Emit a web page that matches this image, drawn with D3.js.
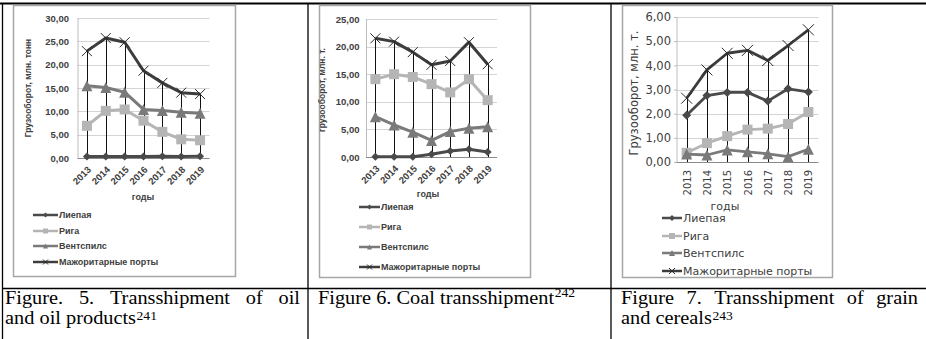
<!DOCTYPE html>
<html>
<head>
<meta charset="utf-8">
<script src="https://cdn.jsdelivr.net/npm/d3@7"></script>
<style>
  body { margin: 0; background: #fff; }
  svg { display: block; }
</style>
</head>
<body>
<svg id="fig" width="926" height="339"></svg>
<script>
// ---- data -------------------------------------------------------------
const years = ["2013", "2014", "2015", "2016", "2017", "2018", "2019"];
const seriesNames = ["Лиепая", "Рига", "Вентспилс", "Мажоритарные порты"];

// Fig. 5 — oil and oil products, mln t
const oilLiepaja   = [0.3, 0.3, 0.3, 0.3, 0.4, 0.3, 0.4];
const oilRiga      = [6.9, 10.1, 10.4, 8.0, 5.6, 4.0, 3.8];
const oilVentspils = [15.5, 15.1, 14.1, 10.4, 10.2, 9.8, 9.6];
const oilMajor     = [22.9, 25.7, 24.8, 18.7, 16.1, 14.0, 13.7];

// Fig. 6 — coal, mln t
const coalLiepaja   = [0.05, 0.05, 0.05, 0.5, 1.1, 1.4, 0.9];
const coalRiga      = [14.1, 15.0, 14.5, 13.2, 11.7, 14.1, 10.3];
const coalVentspils = [7.3, 5.8, 4.5, 3.0, 4.6, 5.2, 5.5];
const coalMajor     = [21.5, 20.9, 19.0, 16.7, 17.4, 20.8, 16.8];

// Fig. 7 — grain and cereals, mln t
const grainLiepaja   = [1.93, 2.75, 2.88, 2.88, 2.52, 3.03, 2.9];
const grainRiga      = [0.38, 0.78, 1.07, 1.34, 1.38, 1.57, 2.07];
const grainVentspils = [0.33, 0.29, 0.5, 0.42, 0.34, 0.22, 0.53];
const grainMajor     = [2.64, 3.81, 4.5, 4.62, 4.2, 4.82, 5.47];

const oilTicks   = [0, 5, 10, 15, 20, 25, 30];
const coalTicks  = [0, 5, 10, 15, 20, 25];
const grainTicks = [0, 1, 2, 3, 4, 5, 6];

const axisTitleX = "годы";
const yTitles = ["Грузооборот, млн. тонн", "грузооборот, млн. т.", "Грузооборот, млн. т."];

const captions = [
  { lines: [["Figure.", "5.", "Transshipment", "of", "oil"], ["and", "oil", "products"]], note: "241" },
  { lines: [["Figure", "6.", "Coal", "transshipment"]], note: "242" },
  { lines: [["Figure", "7.", "Transshipment", "of", "grain"], ["and", "cereals"]], note: "243" }
];

// ---- helpers ----------------------------------------------------------
const svg = d3.select("#fig");
const ruLocale = d3.formatLocale({ decimal: ",", thousands: " ", grouping: [3], currency: ["", ""] });
const fmt2 = ruLocale.format(".2f");

// marker shapes with equal width and height (w = sqrt(size))
const diamond = { draw(ctx, size) { const r = Math.sqrt(size) / 2; ctx.moveTo(0, -r); ctx.lineTo(r, 0); ctx.lineTo(0, r); ctx.lineTo(-r, 0); ctx.closePath(); } };
const square = { draw(ctx, size) { const r = Math.sqrt(size) / 2; ctx.rect(-r, -r, 2 * r, 2 * r); } };
const triangle = { draw(ctx, size) { const r = Math.sqrt(size) / 2; ctx.moveTo(0, -r); ctx.lineTo(r, r); ctx.lineTo(-r, r); ctx.closePath(); } };
const cross = { draw(ctx, size) { const r = Math.sqrt(size) / 2; ctx.moveTo(-r, -r); ctx.lineTo(r, r); ctx.moveTo(r, -r); ctx.lineTo(-r, r); } };

const styles = [
  { color: "#4a4a4a", shape: diamond,  filled: true },
  { color: "#b5b5b5", shape: square,   filled: true },
  { color: "#7a7a7a", shape: triangle, filled: true },
  { color: "#3d3d3d", shape: cross,    filled: false }
];

function drawMarker(g, st, cx, cy, w) {
  const p = g.append("path")
    .attr("transform", `translate(${cx},${cy})`)
    .attr("d", d3.symbol().type(st.shape).size(w * w)());
  if (st.filled) p.attr("fill", st.color).attr("stroke", "none");
  else p.attr("fill", "none").attr("stroke", "#2a2a2a").attr("stroke-width", 1);
}

function drawChart(c) {
  const g = svg.append("g").attr("font-family", c.font).attr("fill", "#404040");

  g.append("rect")
    .attr("x", c.box[0]).attr("y", c.box[1])
    .attr("width", c.box[2] - c.box[0]).attr("height", c.box[3] - c.box[1])
    .attr("fill", "#fff").attr("stroke", "#a6a6a6").attr("stroke-width", 1.5);

  const x = d3.scalePoint().domain(years).range(c.xRange).padding(0.5);
  const y = d3.scaleLinear().domain([0, d3.max(c.ticks)]).range(c.yRange);

  // horizontal gridlines
  g.append("g").selectAll("line").data(c.ticks.slice(1)).join("line")
    .attr("x1", c.xRange[0]).attr("x2", c.xRange[1])
    .attr("y1", d => Math.round(y(d)) + 0.5).attr("y2", d => Math.round(y(d)) + 0.5)
    .attr("stroke", "#d4d4d4").attr("stroke-width", 1);

  // y axis
  const ya = d3.axisLeft(y).tickValues(c.ticks).tickFormat(fmt2).tickSize(c.tickLen).tickPadding(c.tickPad);
  const yg = g.append("g").attr("transform", `translate(${c.xRange[0] + 0.5},0)`).call(ya);
  yg.select(".domain").attr("stroke", "#bcbcbc").attr("d", `M0,${c.yRange[1]}V${c.yRange[0]}`);
  yg.selectAll(".tick line").attr("stroke", "#bcbcbc");
  yg.selectAll(".tick text").attr("fill", "#404040")
    .attr("font-size", c.tickSize).attr("font-weight", c.weight).attr("font-family", c.font);

  // x axis baseline
  g.append("line")
    .attr("x1", c.xRange[0]).attr("x2", c.xRange[1])
    .attr("y1", Math.round(y(0)) + 0.5).attr("y2", Math.round(y(0)) + 0.5)
    .attr("stroke", "#8a8a8a").attr("stroke-width", 1);

  // x tick labels
  const xa = d3.axisBottom(x).tickSize(0).tickPadding(0);
  const xg = g.append("g").attr("transform", `translate(0,${y(0)})`).call(xa);
  xg.select(".domain").remove();
  xg.selectAll(".tick text")
    .attr("fill", "#404040").attr("font-size", c.xLabelSize)
    .attr("font-weight", c.weight).attr("font-family", c.font)
    .attr("text-anchor", "end")
    .attr("dy", "0.35em")
    .attr("transform", `translate(${c.xLabelShift[0]},${c.xLabelShift[1]}) rotate(${c.xLabelAngle})`);

  // drop lines from the top series down to the category axis
  const top = c.series[3];
  g.append("g").selectAll("line").data(years).join("line")
    .attr("x1", d => Math.round(x(d)) + 0.5).attr("x2", d => Math.round(x(d)) + 0.5)
    .attr("y1", (d, i) => y(top[i])).attr("y2", y(0))
    .attr("stroke", "#111").attr("stroke-width", 1);

  // series lines + markers
  const line = d3.line().x((d, i) => x(years[i])).y(d => y(d));
  c.series.forEach((vals, si) => {
    const st = styles[si];
    g.append("path").datum(vals).attr("d", line)
      .attr("fill", "none").attr("stroke", st.color)
      .attr("stroke-width", c.lineW).attr("stroke-linejoin", "round");
    const mg = g.append("g");
    vals.forEach((v, i) => drawMarker(mg, st, x(years[i]), y(v), c.markerW[si]));
  });

  // axis titles
  g.append("text")
    .attr("transform", `translate(${c.yTitlePos[0]},${c.yTitlePos[1]}) rotate(-90)`)
    .attr("text-anchor", "middle").attr("dy", "0.35em")
    .attr("font-size", c.yTitleSize).attr("font-weight", c.weight)
    .text(c.yTitle);
  g.append("text")
    .attr("x", c.xTitlePos[0]).attr("y", c.xTitlePos[1])
    .attr("text-anchor", "middle").attr("dy", "0.35em")
    .attr("font-size", c.xTitleSize).attr("font-weight", c.weight)
    .text(axisTitleX);

  // legend
  const lg = g.append("g");
  seriesNames.forEach((name, i) => {
    const st = styles[i];
    const ly = c.legend.ys[i];
    lg.append("line")
      .attr("x1", c.legend.x0).attr("x2", c.legend.x1).attr("y1", ly).attr("y2", ly)
      .attr("stroke", st.color).attr("stroke-width", 2.5);
    drawMarker(lg, st, (c.legend.x0 + c.legend.x1) / 2, ly, c.legend.markerW);
    lg.append("text")
      .attr("x", c.legend.x1 + 1).attr("y", ly).attr("dy", "0.35em")
      .attr("font-size", c.legend.size).attr("font-weight", c.weight)
      .text(name);
  });
}

// ---- table rules ------------------------------------------------------
const rules = svg.append("g").attr("stroke", "#000");
rules.append("line").attr("x1", 0).attr("x2", 926).attr("y1", 3.5).attr("y2", 3.5).attr("stroke-width", 2);
[2.5, 308, 611].forEach(xv =>
  rules.append("line").attr("x1", xv).attr("x2", xv).attr("y1", 3).attr("y2", 339).attr("stroke-width", 1.3));
rules.append("line").attr("x1", 2).attr("x2", 926).attr("y1", 288.5).attr("y2", 288.5).attr("stroke-width", 1.3);

// ---- charts -----------------------------------------------------------
drawChart({
  box: [13.5, 5.5, 235.5, 276.5],
  xRange: [77.5, 209.5], yRange: [158, 18],
  ticks: oilTicks, tickLen: 0, tickPad: 9,
  series: [oilLiepaja, oilRiga, oilVentspils, oilMajor],
  font: "Liberation Sans", weight: "bold",
  tickSize: 9.5, xLabelSize: 9.5, xLabelAngle: -45, xLabelShift: [2, 10],
  yTitle: yTitles[0], yTitlePos: [28, 88], yTitleSize: 8.5,
  xTitlePos: [143, 197], xTitleSize: 9,
  lineW: 3, markerW: [8, 10, 11, 10],
  legend: { x0: 33, x1: 58, ys: [215, 231, 246, 262], size: 9, markerW: 5 }
});

drawChart({
  box: [319.5, 5.5, 530.5, 277.5],
  xRange: [366, 497], yRange: [157, 19],
  ticks: coalTicks, tickLen: 0, tickPad: 7,
  series: [coalLiepaja, coalRiga, coalVentspils, coalMajor],
  font: "Liberation Sans", weight: "bold",
  tickSize: 9.5, xLabelSize: 9.5, xLabelAngle: -45, xLabelShift: [2, 10],
  yTitle: yTitles[1], yTitlePos: [322, 90], yTitleSize: 8.5,
  xTitlePos: [428, 194], xTitleSize: 9,
  lineW: 3, markerW: [8, 10, 11, 10],
  legend: { x0: 359, x1: 380, ys: [207, 227, 247, 267], size: 9, markerW: 5 }
});

drawChart({
  box: [622.5, 5.5, 832.5, 277.5],
  xRange: [676.5, 818.5], yRange: [162, 17],
  ticks: grainTicks, tickLen: 3, tickPad: 3,
  series: [grainLiepaja, grainRiga, grainVentspils, grainMajor],
  font: "DejaVu Sans", weight: "normal",
  tickSize: 11.5, xLabelSize: 10, xLabelAngle: -90, xLabelShift: [0, 8],
  yTitle: yTitles[2], yTitlePos: [634, 93], yTitleSize: 11.5,
  xTitlePos: [725, 206], xTitleSize: 11,
  lineW: 2.8, markerW: [9, 10, 11, 11],
  legend: { x0: 662, x1: 682, ys: [218, 236, 253, 271], size: 11, markerW: 6 }
});

// ---- captions ---------------------------------------------------------
const capFont = 18, capScale = 1.13, capLine = 20;
const capCells = [
  { x0: 5, x1: 300 },
  { x0: 318, x1: 600 },
  { x0: 621, x1: 918 }
];
const capG = svg.append("g").attr("font-family", "Liberation Serif").attr("fill", "#000");

function wordWidth(w, size) {
  const t = capG.append("text").attr("font-size", size).text(w);
  const len = t.node().getComputedTextLength();
  t.remove();
  return len * capScale;
}

captions.forEach((cap, ci) => {
  const cell = capCells[ci];
  cap.lines.forEach((words, li) => {
    const base = 304 + li * capLine;
    const last = li === cap.lines.length - 1;
    const widths = words.map(w => wordWidth(w, capFont));
    const space = wordWidth("\u00a0", capFont);
    let gap = space;
    if (!last) gap = (cell.x1 - cell.x0 - d3.sum(widths)) / (words.length - 1);
    let pos = cell.x0;
    words.forEach((w, wi) => {
      capG.append("text")
        .attr("transform", `translate(${pos},${base}) scale(${capScale},1)`)
        .attr("font-size", capFont).text(w);
      pos += widths[wi] + (wi < words.length - 1 ? gap : 0);
    });
    if (last) {
      // footnote number, raised above the baseline
      capG.append("text")
        .attr("transform", `translate(${pos + 0.5},${base - (li > 0 ? 4.5 : 7)}) scale(${capScale},1)`)
        .attr("font-size", 12).text(cap.note);
    }
  });
});
</script>
</body>
</html>
